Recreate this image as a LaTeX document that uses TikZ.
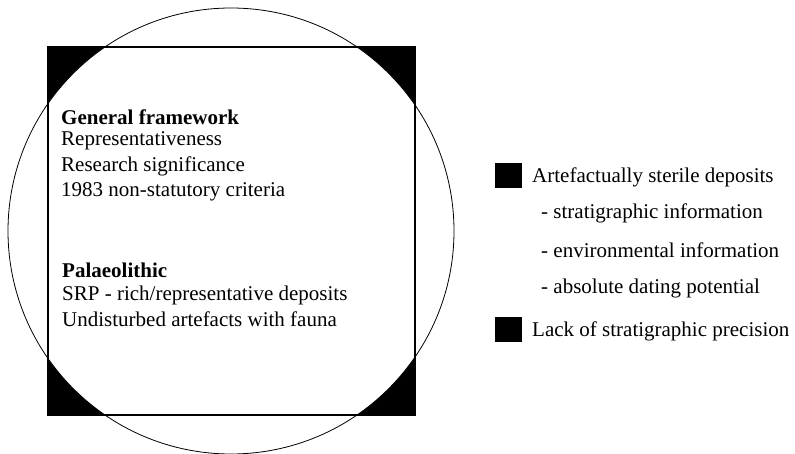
\documentclass[tikz,border=0pt]{standalone}
\usepackage{fontspec}
\setmainfont{Liberation Serif}
\begin{document}
\begin{tikzpicture}[x=1pt,y=-1pt,
  txt/.style={anchor=west,inner sep=0pt,font=\fontsize{21}{23}\selectfont},
  hd/.style={txt,font=\fontsize{21}{23}\selectfont\bfseries},
  key/.style={fill=black,draw=none,minimum width=27pt,minimum height=25pt,inner sep=0pt}]
\useasboundingbox (0,0) rectangle (795,454);
\begin{scope}
  \clip (48,47) rectangle (415,415);
  \fill[black] (48,47) rectangle (415,415);
  \fill[white] (231,231) circle (223);
\end{scope}
\draw[line width=1.1pt] (48,47) rectangle (415,415);
\draw[line width=0.8pt] (231,231) circle (223);
\node[hd] (gf) at (61,117) {General framework};
\node[txt] (rep) at (61,141) {Representativeness};
\node[txt] (rs) at (61,166) {Research significance};
\node[txt] (nsc) at (61,192) {1983 non-statutory criteria};
\node[hd] (pal) at (62,270) {Palaeolithic};
\node[txt] (srp) at (62,295) {SRP - rich/representative deposits};
\node[txt] (und) at (62,319) {Undisturbed artefacts with fauna};
\node[key] (k1) at (508.5,175.5) {};
\node[key] (k2) at (508.5,329) {};
\node[txt] (a1) at (532,177) {Artefactually sterile deposits};
\node[txt] (a2) at (541,213) {- stratigraphic information};
\node[txt] (a3) at (541,250) {- environmental information};
\node[txt] (a4) at (541,288) {- absolute dating potential};
\node[txt] (a5) at (532,331) {Lack of stratigraphic precision};
\end{tikzpicture}
\end{document}
